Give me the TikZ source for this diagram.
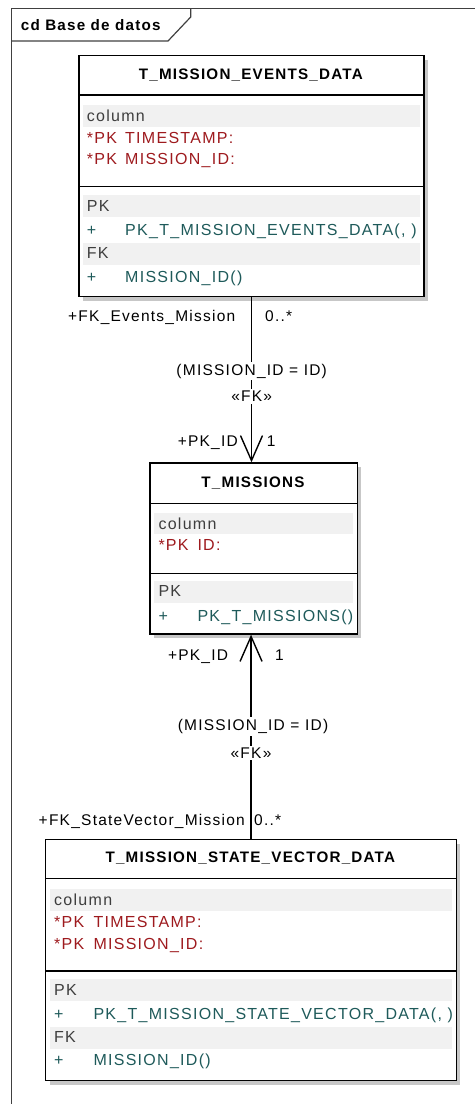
\documentclass[tikz,border=0pt]{standalone}
\usepackage{fontspec}
\setmainfont{Liberation Sans}[LetterSpace=8]
\definecolor{pkrojo}{HTML}{9E1A1E}
\definecolor{opteal}{HTML}{1E5A5A}
\definecolor{barragris}{HTML}{F1F1F1}
\definecolor{grupogris}{HTML}{3E3E3E}
\usetikzlibrary{arrows.meta,shadows}

\tikzset{
  marco/.style={draw=black!75, line width=1.2pt},
  tabla/.style={rectangle, draw=black, line width=1.4pt, fill=white, anchor=north west, inner sep=0pt,
    drop shadow={shadow xshift=4pt, shadow yshift=-4pt, fill=black!22, opacity=1}},
  titulo/.style={font=\bfseries\fontsize{15.2}{18}\selectfont},
  sep/.style={line width=1.4pt},
  barra/.style={fill=barragris},
  fila/.style={anchor=base west, inner sep=0pt, font=\fontsize{16}{19}\selectfont},
  grupo/.style={fila, text=grupogris},
  pkfila/.style={fila, text=pkrojo},
  opfila/.style={fila, text=opteal},
  etiq/.style={inner sep=0pt, font=\fontsize{15.5}{18}\selectfont},
  fkline/.style={line width=1.4pt, -{Straight Barb[length=25pt,width=22pt,line width=1.4pt]}}
}

\begin{document}
\begin{tikzpicture}[x=1pt,y=-1pt]
  \useasboundingbox (0,0) rectangle (475,1104);

  % frame and tab
  \draw[marco] (11.7,1104) -- (11.7,8.3) -- (475,8.3);
  \draw[marco] (11.7,41) -- (168,41) -- (190.7,17) -- (190.7,8.3);
  \node[titulo, anchor=base west, inner sep=0pt] (marcoT) at (20.7,30) {cd Base de datos};

  % T_MISSION_EVENTS_DATA
  \begin{scope}[shift={(78.3,55)}]
    \node[tabla, minimum width=345pt, minimum height=241pt] (events) at (0,0) {};
    \node[titulo] (eventsT) at (172.5,20) {T\_MISSION\_EVENTS\_DATA};
    \draw[sep] (0,40) -- (345,40);
    \draw[sep] (0,131.7) -- (345,131.7);
    \foreach \y in {50,140,187.7}
      \fill[barra] (4.4,\y) rectangle (341.7,\y+21.8);
    \node[grupo] (evCol) at (8.4,66.7) {column};
    \foreach \y/\txt [count=\i] in {88.3/TIMESTAMP:, 109.3/MISSION\_ID:} {
      \node[pkfila] (evPk\i) at (8.4,\y) {*PK};
      \node[pkfila] (evCampo\i) at (46.7,\y) {\txt};
    }
    \node[grupo] (evPK) at (8.4,156) {PK};
    \node[opfila] (evMas1) at (8.4,180) {+};
    \node[opfila] (evOp1) at (46.7,180) {PK\_T\_MISSION\_EVENTS\_DATA(, )};
    \node[grupo] (evFK) at (8.4,203.3) {FK};
    \node[opfila] (evMas2) at (8.4,227.3) {+};
    \node[opfila] (evOp2) at (46.7,227.3) {MISSION\_ID()};
  \end{scope}

  % T_MISSIONS
  \begin{scope}[shift={(149.3,462.3)}]
    \node[tabla, minimum width=207.4pt, minimum height=171pt] (missions) at (0,0) {};
    \node[titulo] (missionsT) at (103.7,20.7) {T\_MISSIONS};
    \draw[sep] (0,41) -- (207.4,41);
    \draw[sep] (0,111) -- (207.4,111);
    \fill[barra] (4.7,51) rectangle (204,71.7);
    \fill[barra] (4.7,118.7) rectangle (204,141);
    \node[grupo] (miCol) at (9,66.7) {column};
    \node[pkfila] (miPk1) at (9,88.4) {*PK};
    \node[pkfila] (miCampo1) at (48,88.4) {ID:};
    \node[grupo] (miPK) at (9,134.4) {PK};
    \node[opfila] (miMas1) at (9,159.4) {+};
    \node[opfila] (miOp1) at (48,159.4) {PK\_T\_MISSIONS()};
  \end{scope}

  % T_MISSION_STATE_VECTOR_DATA
  \begin{scope}[shift={(45,839)}]
    \node[tabla, minimum width=410.7pt, minimum height=241pt] (statevec) at (0,0) {};
    \node[titulo] (statevecT) at (205.3,19.3) {T\_MISSION\_STATE\_VECTOR\_DATA};
    \draw[sep] (0,39.3) -- (410.7,39.3);
    \draw[sep] (0,132) -- (410.7,132);
    \foreach \y in {50,140,187.7}
      \fill[barra] (5,\y) rectangle (407.3,\y+22.2);
    \node[grupo] (svCol) at (9,66) {column};
    \foreach \y/\txt [count=\i] in {88.3/TIMESTAMP:, 110/MISSION\_ID:} {
      \node[pkfila] (svPk\i) at (9,\y) {*PK};
      \node[pkfila] (svCampo\i) at (48.3,\y) {\txt};
    }
    \node[grupo] (svPK) at (9,156) {PK};
    \node[opfila] (svMas1) at (9,180.3) {+};
    \node[opfila] (svOp1) at (48.3,180.3) {PK\_T\_MISSION\_STATE\_VECTOR\_DATA(, )};
    \node[grupo] (svFK) at (9,203.3) {FK};
    \node[opfila] (svMas2) at (9,226.7) {+};
    \node[opfila] (svOp2) at (48.3,226.7) {MISSION\_ID()};
  \end{scope}

  % foreign keys
  \draw[fkline] (events.south) -- (events.south |- missions.north);
  \draw[fkline] (statevec.north) -- (statevec.north |- missions.south);

  % labels, events -> missions
  \node[etiq, anchor=base east] (fkEvRol) at (235.5,321.7) {+FK\_Events\_Mission};
  \node[etiq, anchor=base west] (fkEvMult) at (265,321.7) {0..*};
  \node[etiq, anchor=base, fill=white, inner ysep=2pt] (fkEvCond) at (251.7,375) {(MISSION\_ID = ID)};
  \node[etiq, anchor=base, fill=white, inner ysep=2pt] (fkEvEst) at (251.7,401.7) {«FK»};
  \node[etiq, anchor=base east] (pkEvRol) at (238,446.7) {+PK\_ID};
  \node[etiq, anchor=base west] (pkEvMult) at (266.7,446.7) {1};

  % labels, state vector -> missions
  \node[etiq, anchor=base east] (pkSvRol) at (228.3,660) {+PK\_ID};
  \node[etiq, anchor=base west] (pkSvMult) at (275,660) {1};
  \node[etiq, anchor=base, fill=white, inner ysep=2pt] (fkSvCond) at (253,730.7) {(MISSION\_ID = ID)};
  \node[etiq, anchor=base, fill=white, inner ysep=2pt] (fkSvEst) at (251,758.3) {«FK»};
  \node[etiq, anchor=base east] (fkSvRol) at (245,825) {+FK\_StateVector\_Mission};
  \node[etiq, anchor=base west] (fkSvMult) at (254,825) {0..*};
\end{tikzpicture}
\end{document}
